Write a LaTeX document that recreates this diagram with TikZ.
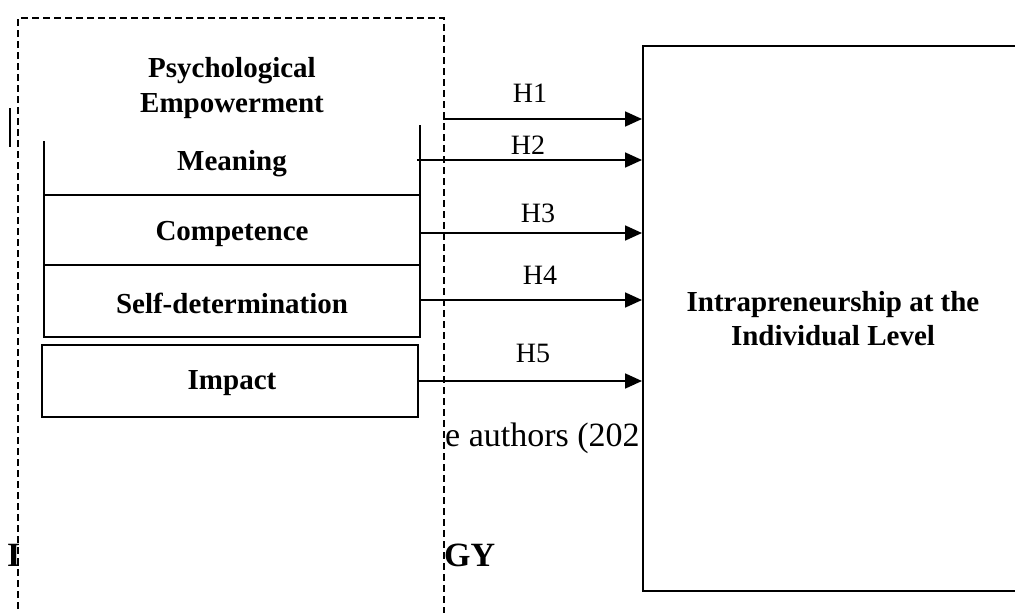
\documentclass[tikz,border=0pt]{standalone}
\usepackage{fontspec}
\setmainfont{Liberation Serif}
\usetikzlibrary{arrows.meta}
\begin{document}
\begin{tikzpicture}[x=1pt,y=-1pt,
  lbl/.style={font=\fontsize{29}{35}\selectfont\bfseries, inner sep=0pt, align=center},
  hl/.style={font=\fontsize{28}{32}\selectfont, inner sep=0pt},
  bg/.style={font=\fontsize{34}{38}\selectfont, inner sep=0pt},
  bgb/.style={font=\fontsize{34}{38}\selectfont\bfseries, inner sep=0pt},
  ln/.style={line width=1.8pt},
  arr/.style={line width=1.8pt, -{Triangle[length=17pt,width=15pt]}},
  frame/.style={line width=1.4pt, dash pattern=on 7pt off 4pt}]
\useasboundingbox[fill=white] (0,0) rectangle (1015,613);
% text of the page behind the figure
\node[bg, anchor=base west] (src) at (445,446) {e authors (202};
\node[bgb, anchor=base west] (gy) at (444,566) {GY};
\node[bgb, anchor=base west] (ii) at (7,566) {I};
\draw[line width=1.2pt] (10,108) -- (10,147);
% dashed frame
\fill[white] (18.7,18) rectangle (443.3,620);
\draw[frame] (18,620) -- (18,18) -- (444,18) -- (444,620);
% outcome box
\node[draw, fill=white, ln, minimum width=420pt, minimum height=545pt, anchor=north west] (ip) at (642,45) {};
\node[lbl, font=\fontsize{29}{34}\selectfont\bfseries] (iplbl) at (833,319) {Intrapreneurship at the\\Individual Level};
% psychological empowerment
\node[lbl] (pe) at (232,88) {Psychological\\Empowerment};
\coordinate (mtl) at (44,141);
\coordinate (mtr) at (420,125);
\draw[ln] (mtl) -- (44,337) -- (420,337) -- (mtr);
\draw[ln] (44,195) -- (420,195);
\draw[ln] (44,265) -- (420,265);
\node[lbl] (mean) at (232,164) {Meaning};
\node[lbl] (comp) at (232,234) {Competence};
\node[lbl] (self) at (232,303) {Self-determination};
\node[draw, ln, minimum width=376pt, minimum height=72pt] (imp) at (230,381) {};
\node[lbl] (impl) at (232,383) {Impact};
% connectors
\coordinate (h1s) at (444,112);
\coordinate (h2s) at (417,160);
\coordinate (h3s) at (420,233);
\coordinate (h4s) at (420,300);
\draw[arr] (h1s) |- (ip.west |- 0,119);
\draw[arr] (h2s) -- (ip.west |- h2s);
\draw[arr] (h3s) -- (ip.west |- h3s);
\draw[arr] (h4s) -- (ip.west |- h4s);
\draw[arr] (imp.east |- 0,381) -- (ip.west |- 0,381);
\node[hl] (l1) at (530,93) {H1};
\node[hl] (l2) at (528,145) {H2};
\node[hl] (l3) at (538,213) {H3};
\node[hl] (l4) at (540,275) {H4};
\node[hl] (l5) at (533,353) {H5};
\end{tikzpicture}
\end{document}
